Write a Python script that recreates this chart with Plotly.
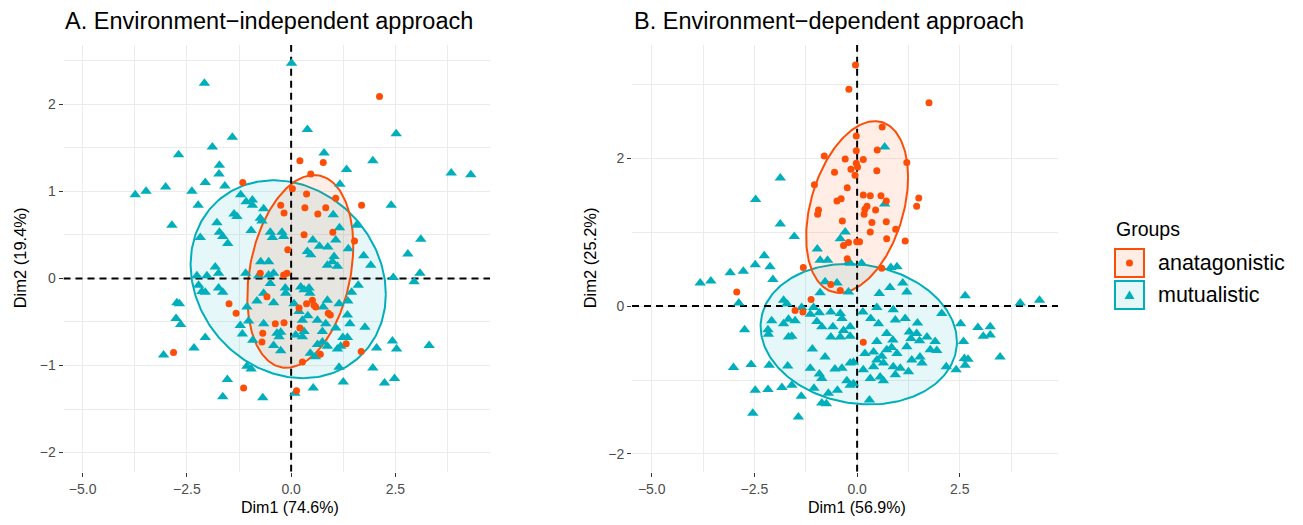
import numpy as np
import plotly.graph_objects as go

# page is shown with the browser's default 8px body margin, so the figure is
# made 16px smaller and every placement is given in page pixels minus 8.
OFF = 8
W, H = 1303 - 2 * OFF, 525 - 2 * OFF

# ---------------- data ----------------
# Panel A: environment-independent approach  (Dim1, Dim2)
a_ant = [(-1.16, 1.10), (-0.74, 0.06), (2.12, 2.09), (0.21, 1.35), (0.77, 1.33), (0.47, 1.20),
         (0.03, 1.03), (0.37, 0.97), (1.07, 0.92), (1.69, 0.84), (-0.25, 0.84), (-0.17, 0.75),
         (0.33, 0.81), (0.64, 0.74), (0.83, 0.81), (1.00, 0.53), (0.31, 0.50), (1.52, 0.43),
         (-0.08, 0.33), (-0.10, 0.06), (-0.18, 0.04), (-2.82, -0.85), (-1.49, -0.29), (-1.32, -0.40),
         (-0.58, -0.21), (-0.38, -0.52), (-0.68, -0.63), (-0.70, -0.73), (-1.14, -1.26), (0.51, -0.25),
         (0.55, -0.31), (0.59, -0.33), (0.37, -0.29), (0.19, -0.34), (0.89, -0.40), (0.94, -0.42),
         (-0.17, -0.51), (0.21, -0.57), (1.32, -0.75), (0.70, -0.87), (0.27, -0.96), (1.68, -0.84),
         (0.13, -1.29)]

a_mut = [(-2.08, 2.24), (-1.41, 1.62), (-1.89, 1.51), (-2.70, 1.42), (-1.72, 1.30), (-1.73, 1.20),
         (-2.06, 1.10), (-1.59, 1.06), (-3.74, 0.96), (-3.48, 1.00), (-3.01, 1.05), (-2.38, 1.00),
         (-2.23, 0.84), (-1.21, 0.96), (-1.08, 0.88), (-0.93, 0.90), (-0.93, 0.84), (-0.66, 0.80),
         (-0.74, 0.69), (-0.70, 0.66), (-1.37, 0.74), (-1.30, 0.71), (-2.86, 0.61), (-1.78, 0.64),
         (-1.72, 0.53), (-1.64, 0.48), (-1.52, 0.40), (-0.96, 0.55), (-2.18, 0.47), (-0.50, 0.53),
         (-0.45, 0.47), (-1.82, 0.13), (-1.74, 0.06), (-0.73, 0.19), (-0.54, 0.19), (-1.09, 0.06),
         (-0.42, 0.06), (-2.26, 0.03), (-0.22, 0.53), (-0.18, 0.48),
         (0.01, 2.47), (0.39, 1.71), (2.52, 1.66), (0.79, 1.44), (1.33, 1.25), (1.96, 1.35),
         (3.84, 1.21), (4.31, 1.19), (1.17, 1.08), (2.40, 0.84), (1.01, 0.73), (1.57, 0.61),
         (1.16, 0.58), (3.11, 0.45), (0.52, 0.44), (0.68, 0.37), (0.88, 0.36), (1.07, 0.44),
         (1.37, 0.34), (2.80, 0.28), (0.39, 0.31), (0.47, 0.27), (1.74, 0.26),
         (-2.02, 0.03), (-2.22, -0.08), (-2.14, -0.15), (-2.06, -0.16), (-1.74, -0.11), (-1.64, -0.16),
         (-2.74, -0.28), (-2.68, -0.29), (-2.76, -0.46), (-2.65, -0.53), (-2.06, -0.68), (-2.33, -0.80),
         (-3.06, -0.88), (-1.22, -0.54), (-1.17, -0.64), (-1.02, -0.49), (-1.06, -0.33), (-0.82, -0.26),
         (-0.66, -0.17), (-0.42, -0.28), (-0.78, 0.03), (-0.54, 0.04), (-0.66, -0.52), (-0.92, -0.71),
         (-0.42, -0.77), (-1.06, -1.01), (-0.96, -1.04), (-1.53, -1.16), (-1.64, -1.36), (-0.68, -1.37),
         (-0.34, -0.63), (-0.50, -0.06), (-0.14, -0.11),
         (1.03, 0.25), (0.99, 0.19), (0.87, 0.15), (1.11, 0.14), (1.91, 0.15), (3.09, 0.06),
         (2.95, -0.04), (2.45, 0.01), (1.61, -0.08), (1.45, -0.16), (1.36, -0.26), (1.15, -0.29),
         (0.87, -0.25), (0.77, -0.33), (0.43, -0.11), (0.31, -0.13), (0.45, -0.17), (0.23, -0.10),
         (-0.13, -0.17), (0.07, -0.29), (0.19, -0.38), (0.27, -0.48), (0.40, -0.43), (0.63, -0.48),
         (0.83, -0.52), (1.35, -0.42), (1.41, -0.52), (-0.25, -0.62), (-0.29, -0.67), (0.11, -0.65),
         (0.31, -0.61), (0.27, -0.67), (0.75, -0.61), (1.07, -0.57), (1.77, -0.56), (1.24, -0.68),
         (1.35, -0.68), (-0.25, -0.83), (0.63, -0.76), (0.87, -0.78), (1.11, -0.81), (1.19, -0.78),
         (0.75, -0.73), (0.46, -0.86), (0.58, -0.90), (2.05, -0.80), (2.43, -0.72), (2.53, -0.81),
         (3.31, -0.77), (1.15, -1.02), (1.96, -1.03), (1.25, -1.19), (2.24, -1.20), (2.48, -1.15),
         (0.53, -1.26), (0.09, -1.32)]

# Panel B: environment-dependent approach
b_ant = [(-0.04, 3.26), (-0.20, 2.93), (-0.80, 2.03), (-0.29, 1.99), (-0.55, 1.81), (-0.15, 1.85),
         (-0.05, 1.77), (-0.02, 1.93), (-1.04, 1.64), (-0.24, 1.60), (-0.49, 1.42), (-0.39, 1.45),
         (-0.94, 1.30), (-0.96, 1.24), (-0.36, 1.15), (-0.33, 0.82), (-0.21, 0.86), (-0.01, 0.87),
         (-0.24, 0.64),
         (1.75, 2.75), (0.61, 2.42), (-0.02, 2.30), (0.49, 2.11), (-0.02, 2.10), (0.15, 1.98),
         (1.21, 1.94), (0.01, 1.88), (0.48, 1.83), (0.15, 1.50), (0.32, 1.49), (0.58, 1.49),
         (0.71, 1.42), (1.50, 1.46), (1.45, 1.35), (0.24, 1.35), (0.19, 1.31), (0.17, 1.24),
         (0.45, 1.30), (0.36, 1.13), (0.71, 1.14), (0.32, 1.00), (0.94, 1.04), (0.72, 0.91),
         (1.17, 0.88), (0.06, 0.87),
         (-2.93, 0.19), (-1.31, 0.52), (-0.64, 0.29), (-0.41, 0.21), (-1.12, 0.09), (-1.51, -0.06),
         (-1.32, -0.08), (0.60, 0.51), (0.15, -0.49)]

b_mut = [(-1.87, 1.73), (-2.47, 1.44), (-1.87, 1.11), (-1.53, 0.94), (-2.26, 0.68), (-0.97, 0.77),
         (-0.29, 1.00), (-0.41, 0.91), (-0.90, 0.62), (-0.72, 0.62), (0.67, 2.15), (0.67, 1.38),
         (-2.48, 0.56), (-2.12, 0.53), (-3.09, 0.45), (-2.77, 0.47), (-3.82, 0.31), (-3.56, 0.34),
         (-2.05, 0.36), (-2.88, 0.04), (-0.21, 0.59), (-0.78, 0.33), (-0.49, 0.31), (-0.90, 0.18),
         (-0.21, 0.19), (-1.79, 0.08), (-1.71, 0.03), (-1.35, -0.02), (-1.14, -0.11), (-1.06, -0.02),
         (-0.92, -0.09), (-0.64, -0.08), (-0.41, -0.10), (-0.37, -0.17), (-2.08, -0.20), (-2.17, -0.32),
         (-2.16, -0.38), (-1.79, -0.24), (-1.67, -0.18), (-1.51, -0.20), (-0.98, -0.21), (-0.86, -0.28),
         (-0.59, -0.28), (-0.33, -0.33), (-0.17, -0.28), (-2.74, -0.32), (-1.67, -0.42), (-1.59, -0.41),
         (-0.64, -0.42), (-0.41, -0.42), (-1.09, -0.58), (-0.78, -0.69), (-3.01, -0.83), (-2.58, -0.79),
         (-2.14, -0.80), (-1.69, -0.81), (-1.14, -0.84), (-0.54, -0.85), (-0.37, -0.84), (-0.17, -0.77),
         (-0.09, -0.76), (-0.92, -0.92), (-0.86, -0.98), (-0.25, -1.01), (-0.17, -1.07), (-0.09, -1.05),
         (-2.48, -1.14), (-2.17, -1.13), (-1.83, -1.10), (-1.59, -1.07), (-1.36, -1.22), (-1.05, -1.11),
         (-0.70, -1.18), (-0.48, -1.14), (-0.86, -1.31), (-0.75, -1.32), (-2.54, -1.45), (-1.43, -1.50),
         (-0.17, 0.58), (0.11, 0.58), (0.82, 0.52), (0.97, 0.53), (0.54, 0.17), (0.80, 0.25),
         (1.11, 0.31), (1.21, 0.19), (2.63, 0.14), (3.97, 0.04), (4.44, 0.08), (2.06, -0.10),
         (0.14, -0.08), (0.48, -0.02), (0.88, -0.05), (0.93, -0.19), (1.17, -0.17), (1.47, -0.23),
         (0.33, -0.17), (0.52, -0.24), (0.72, -0.37), (1.27, -0.35), (1.45, -0.37), (1.70, -0.42),
         (1.31, -0.44), (1.52, -0.47), (2.52, -0.24), (2.94, -0.29), (3.24, -0.28), (3.07, -0.41),
         (3.24, -0.39), (0.48, -0.48), (0.87, -0.46), (0.84, -0.56), (1.21, -0.55), (1.90, -0.48),
         (1.94, -0.60), (1.78, -0.59), (2.59, -0.48), (-0.17, -0.41), (0.19, -0.64), (0.40, -0.62),
         (0.60, -0.68), (0.72, -0.59), (0.97, -0.64), (1.33, -0.73), (1.53, -0.69), (1.58, -0.77),
         (0.48, -0.73), (0.64, -0.77), (0.40, -0.82), (0.88, -0.82), (1.05, -0.84), (1.25, -0.89),
         (0.15, -0.86), (0.56, -0.96), (0.32, -0.98), (0.64, -1.01), (0.93, -0.93), (2.17, -0.82),
         (2.41, -0.86), (2.63, -0.80), (2.70, -0.72), (2.61, -0.71), (3.48, -0.69), (0.30, -1.27)]

# concentration ellipses: centre (cx, cy) and shape matrix (sxx, syy, sxy)
a_ant_ellipse = (0.22, 0.08, 1.613, 1.225, 0.37)
a_mut_ellipse = (-0.07, -0.01, 5.48, 1.29, -0.40)
b_ant_ellipse = (0.00, 1.34, 1.538, 1.346, 0.50)
b_mut_ellipse = (0.04, -0.38, 5.71, 0.9025, -0.25)

# axis ranges
a_xrange, a_yrange = [-5.46, 4.77], [-2.22, 2.68]
b_xrange, b_yrange = [-5.48, 4.89], [-2.24, 3.53]

group_names = ["anatagonistic", "mutualistic"]
panel_titles = ["A. Environment\u2212independent approach", "B. Environment\u2212dependent approach"]
x_titles = ["Dim1 (74.6%)", "Dim1 (56.9%)"]
y_titles = ["Dim2 (19.4%)", "Dim2 (25.2%)"]

# ---------------- styling ----------------
ORANGE = "#FC4E07"
TEAL = "#00AFBB"
ORANGE_FILL = "rgba(252,78,7,0.10)"
TEAL_FILL = "rgba(0,175,187,0.10)"
FONT = "Liberation Sans, Arial, Helvetica, sans-serif"
GRID = "#EBEBEB"


def ellipse_xy(params, n=240):
    cx, cy, sxx, syy, sxy = params
    L = np.linalg.cholesky(np.array([[sxx, sxy], [sxy, syy]]))
    t = np.linspace(0, 2 * np.pi, n)
    pts = L @ np.vstack([np.cos(t), np.sin(t)])
    return cx + pts[0], cy + pts[1]


fig = go.Figure()

panels = [
    ("x", "y", a_ant, a_mut, a_ant_ellipse, a_mut_ellipse, a_xrange, a_yrange),
    ("x2", "y2", b_ant, b_mut, b_ant_ellipse, b_mut_ellipse, b_xrange, b_yrange),
]
dash_line = dict(color="black", width=2, dash="7px,5px")
for xa, ya, ant, mut, ant_e, mut_e, xr, yr in panels:
    ex, ey = ellipse_xy(mut_e)
    fig.add_trace(go.Scatter(x=ex, y=ey, mode="lines", fill="toself", fillcolor=TEAL_FILL,
                             line=dict(color=TEAL, width=2), xaxis=xa, yaxis=ya,
                             showlegend=False, hoverinfo="skip"))
    ex, ey = ellipse_xy(ant_e)
    fig.add_trace(go.Scatter(x=ex, y=ey, mode="lines", fill="toself", fillcolor=ORANGE_FILL,
                             line=dict(color=ORANGE, width=2), xaxis=xa, yaxis=ya,
                             showlegend=False, hoverinfo="skip"))
    # dashed reference lines at 0
    fig.add_trace(go.Scatter(x=[0, 0], y=yr, mode="lines", line=dash_line, xaxis=xa, yaxis=ya,
                             showlegend=False, hoverinfo="skip"))
    fig.add_trace(go.Scatter(x=xr, y=[0, 0], mode="lines", line=dash_line, xaxis=xa, yaxis=ya,
                             showlegend=False, hoverinfo="skip"))
    fig.add_trace(go.Scatter(x=[p[0] for p in mut], y=[p[1] for p in mut], mode="markers",
                             marker=dict(symbol="triangle-up", size=10, color=TEAL),
                             xaxis=xa, yaxis=ya, showlegend=False, name=group_names[1]))
    fig.add_trace(go.Scatter(x=[p[0] for p in ant], y=[p[1] for p in ant], mode="markers",
                             marker=dict(symbol="circle", size=7, color=ORANGE),
                             xaxis=xa, yaxis=ya, showlegend=False, name=group_names[0]))


# page-pixel helpers -> paper coordinates (margins are zero)
def px(v):
    return (v - OFF) / W


def py(v):
    return 1 - (v - OFF) / H


top_px, bot_px = 45, 471.7
ydom = [py(bot_px), py(top_px)]

common_axis = dict(showgrid=True, gridcolor=GRID, gridwidth=1.4, zeroline=False, showline=False,
                   ticks="outside", ticklen=4, tickwidth=1.3, tickcolor="#333333", automargin=False,
                   tickfont=dict(family=FONT, size=14, color="#4D4D4D"))

fig.update_layout(
    width=W, height=H,
    margin=dict(l=0, r=0, t=0, b=0, autoexpand=False),
    paper_bgcolor="white", plot_bgcolor="white",
    showlegend=False,
    xaxis=dict(domain=[px(63.5), px(490)], range=a_xrange, tick0=0, dtick=2.5, tickformat=".1f",
               minor=dict(dtick=1.25, showgrid=True, gridcolor=GRID, gridwidth=0.8), anchor="y",
               **common_axis),
    yaxis=dict(domain=ydom, range=a_yrange, tick0=0, dtick=1,
               minor=dict(dtick=0.5, showgrid=True, gridcolor=GRID, gridwidth=0.8), anchor="x",
               **common_axis),
    xaxis2=dict(domain=[px(632), px(1058)], range=b_xrange, tick0=0, dtick=2.5, tickformat=".1f",
                minor=dict(dtick=1.25, showgrid=True, gridcolor=GRID, gridwidth=0.8), anchor="y2",
                **common_axis),
    yaxis2=dict(domain=ydom, range=b_yrange, tick0=0, dtick=2,
                minor=dict(dtick=1, showgrid=True, gridcolor=GRID, gridwidth=0.8), anchor="x2",
                **common_axis),
)

shapes = []
# legend keys (ggplot-like boxes)
key_left, key_right = 1115, 1144
key_rows = [(249, 277), (281, 309)]
key_colors = [(ORANGE, ORANGE_FILL), (TEAL, TEAL_FILL)]
for (y0, y1), (lc, fc) in zip(key_rows, key_colors):
    shapes.append(dict(type="rect", xref="paper", yref="paper", x0=px(key_left), x1=px(key_right),
                       y0=py(y1), y1=py(y0), line=dict(color=lc, width=2), fillcolor=fc))
cxk, cyk = (key_left + key_right) / 2, sum(key_rows[0]) / 2
shapes.append(dict(type="circle", xref="paper", yref="paper", x0=px(cxk - 3.5), x1=px(cxk + 3.5),
                   y0=py(cyk + 3.5), y1=py(cyk - 3.5), line=dict(width=0), fillcolor=ORANGE))
cyk2 = sum(key_rows[1]) / 2
tri = "M {} {} L {} {} L {} {} Z".format(px(cxk), py(cyk2 - 4.5), px(cxk - 5), py(cyk2 + 4),
                                         px(cxk + 5), py(cyk2 + 4))
shapes.append(dict(type="path", xref="paper", yref="paper", path=tri, line=dict(width=0),
                   fillcolor=TEAL))
fig.update_layout(shapes=shapes)

ann = []
for x0, t in zip([63, 632], panel_titles):
    ann.append(dict(text=t, x=px(x0), y=py(21), xref="paper", yref="paper",
                    xanchor="left", yanchor="middle", showarrow=False,
                    font=dict(family=FONT, size=23.5, color="black")))
for cx, t in zip([290, 857], x_titles):
    ann.append(dict(text=t, x=px(cx), y=0, xref="paper", yref="paper", xanchor="center",
                    yanchor="bottom", showarrow=False, borderpad=0,
                    font=dict(family=FONT, size=16, color="black")))
for cx, t in zip([20, 590], y_titles):
    ann.append(dict(text=t, x=px(cx), y=py((top_px + bot_px) / 2), xref="paper", yref="paper",
                    xanchor="center", yanchor="middle", textangle=-90, showarrow=False,
                    font=dict(family=FONT, size=16.5, color="black")))
ann.append(dict(text="Groups", x=px(1114), y=py(229), xref="paper", yref="paper", xanchor="left",
                yanchor="middle", showarrow=False, font=dict(family=FONT, size=19.5, color="black")))
for (y0, y1), name in zip(key_rows, group_names):
    ann.append(dict(text=name, x=px(1156), y=py((y0 + y1) / 2), xref="paper", yref="paper",
                    xanchor="left", yanchor="middle", showarrow=False,
                    font=dict(family=FONT, size=21.5, color="black")))
fig.update_layout(annotations=ann)

fig.write_html("out.html")
